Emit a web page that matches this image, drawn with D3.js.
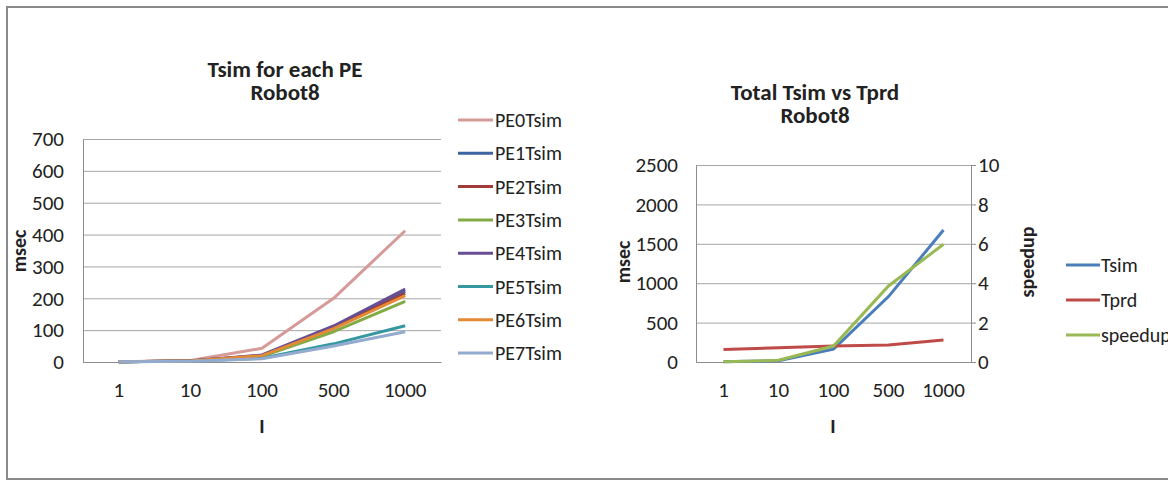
<!DOCTYPE html>
<html>
<head>
<meta charset="utf-8">
<script src="https://cdn.jsdelivr.net/npm/d3@7"></script>
<style>
  html, body { margin: 0; padding: 0; background: #fff; }
  svg { display: block; }
  text { font-family: Carlito, Lato, "Open Sans", sans-serif; fill: #222; }
</style>
</head>
<body>
<svg id="chart" width="1168" height="480"></svg>
<script>
// Iteration counts along the x axis
const categories = ["1", "10", "100", "500", "1000"];

// Per-PE simulation time (msec)
const pe0 = [1, 5, 43, 200, 412];
const pe1 = [0.5, 3, 20, 110, 222];
const pe2 = [0.5, 3, 20, 108, 215];
const pe3 = [0.5, 3, 18, 95, 190];
const pe4 = [0.5, 3, 22, 113, 229];
const pe5 = [0.5, 2, 12, 57, 114];
const pe6 = [0.5, 3, 20, 105, 208];
const pe7 = [0.5, 2, 10, 50, 95];
const peNames = ["PE0Tsim", "PE1Tsim", "PE2Tsim", "PE3Tsim", "PE4Tsim", "PE5Tsim", "PE6Tsim", "PE7Tsim"];
const peColors = ["#d69a98", "#3d64a0", "#a23b38", "#82ab45", "#674e92", "#35979f", "#e38a35", "#94abd0"];

// Totals and speedup
const tsim = [2, 16, 165, 830, 1675];
const tprd = [160, 180, 203, 215, 280];
const speedup = [0.01, 0.09, 0.81, 3.86, 5.98];

const leftTicks = [0, 100, 200, 300, 400, 500, 600, 700];
const rightMsecTicks = [0, 500, 1000, 1500, 2000, 2500];
const speedupTicks = [0, 2, 4, 6, 8, 10];

const svg = d3.select("#chart");
const FONT = "Carlito, Lato, sans-serif";
const TICK_SIZE = 21;
const TITLE_SIZE = 23;
const LEGEND_SIZE = 20;
const AXIS_TITLE_SIZE = 20;

// outer frame
svg.append("rect")
  .attr("x", 7).attr("y", 7).attr("width", 1170).attr("height", 472)
  .attr("fill", "none").attr("stroke", "#8a8a8a").attr("stroke-width", 2);

const gridColor = "#a6a6a6";
const axisColor = "#8c8c8c";
const fmt = d3.format("d");

function styleTicks(a) {
  a.selectAll("text").attr("font-size", TICK_SIZE).attr("fill", "#222").style("font-family", FONT);
}

// two-line bold chart title as one text element
function title(g, cx, y, lines) {
  const t = g.append("text").attr("x", cx).attr("y", y).attr("text-anchor", "middle")
    .attr("font-size", TITLE_SIZE).attr("font-weight", "bold");
  lines.forEach((s, i) => {
    t.append("tspan").attr("x", cx).attr("dy", i === 0 ? 0 : 22.5).text(s);
  });
}

function drawLines(g, x, y, seriesList, colors) {
  const line = d3.line()
    .x((d, i) => x(categories[i]) + x.bandwidth() / 2)
    .y(d => y(d));
  seriesList.forEach((s, k) => {
    g.append("path")
      .datum(s)
      .attr("fill", "none")
      .attr("stroke", colors[k])
      .attr("stroke-width", 3)
      .attr("stroke-linejoin", "round")
      .attr("d", line);
  });
}

// ---------- Left chart: Tsim for each PE ----------
{
  const L = { left: 83, right: 441, top: 139, bottom: 362 };
  const x = d3.scaleBand().domain(categories).range([L.left, L.right]);
  const y = d3.scaleLinear().domain([0, 700]).range([L.bottom, L.top]);
  const g = svg.append("g");

  g.append("g").attr("transform", `translate(${L.left},0)`)
    .call(d3.axisLeft(y).tickValues(leftTicks).tickSize(-(L.right - L.left)).tickFormat(""))
    .call(a => a.select(".domain").remove())
    .call(a => a.selectAll("line").attr("stroke", gridColor).attr("stroke-width", 1));

  g.append("g").attr("transform", `translate(${L.left},0)`)
    .call(d3.axisLeft(y).tickValues(leftTicks).tickSize(0).tickPadding(19).tickFormat(fmt))
    .call(a => a.select(".domain").attr("stroke", axisColor))
    .call(styleTicks);

  g.append("g").attr("transform", `translate(0,${L.bottom})`)
    .call(d3.axisBottom(x).tickSize(0).tickPadding(20))
    .call(a => a.select(".domain").attr("stroke", axisColor))
    .call(styleTicks);

  drawLines(g, x, y, [pe0, pe1, pe2, pe3, pe4, pe5, pe6, pe7], peColors);

  title(g, 285, 77, ["Tsim for each PE", "Robot8"]);

  g.append("text").attr("transform", "translate(26,251) rotate(-90)")
    .attr("text-anchor", "middle").attr("font-size", AXIS_TITLE_SIZE).attr("font-weight", "bold").text("msec");
  g.append("text").attr("x", 262).attr("y", 433).attr("text-anchor", "middle")
    .attr("font-size", AXIS_TITLE_SIZE).attr("font-weight", "bold").text("I");

  const leg = g.append("g");
  peNames.forEach((n, i) => {
    const yy = 120 + i * 33.3;
    leg.append("line").attr("x1", 458).attr("x2", 493).attr("y1", yy).attr("y2", yy)
      .attr("stroke", peColors[i]).attr("stroke-width", 3);
    leg.append("text").attr("x", 495).attr("y", yy + 7).attr("font-size", LEGEND_SIZE).text(n);
  });
}

// ---------- Right chart: Total Tsim vs Tprd ----------
{
  const R = { left: 696, right: 971, top: 165, bottom: 362 };
  const x = d3.scaleBand().domain(categories).range([R.left, R.right]);
  const y = d3.scaleLinear().domain([0, 2500]).range([R.bottom, R.top]);
  const y2 = d3.scaleLinear().domain([0, 10]).range([R.bottom, R.top]);
  const g = svg.append("g");

  g.append("g").attr("transform", `translate(${R.left},0)`)
    .call(d3.axisLeft(y).tickValues(rightMsecTicks).tickSize(-(R.right - R.left)).tickFormat(""))
    .call(a => a.select(".domain").remove())
    .call(a => a.selectAll("line").attr("stroke", gridColor).attr("stroke-width", 1));

  g.append("g").attr("transform", `translate(${R.left},0)`)
    .call(d3.axisLeft(y).tickValues(rightMsecTicks).tickSize(0).tickPadding(18).tickFormat(fmt))
    .call(a => a.select(".domain").attr("stroke", axisColor))
    .call(styleTicks);

  g.append("g").attr("transform", `translate(${R.right},0)`)
    .call(d3.axisRight(y2).tickValues(speedupTicks).tickSize(5).tickPadding(2).tickSizeOuter(0).tickFormat(fmt))
    .call(a => a.select(".domain").attr("stroke", axisColor))
    .call(a => a.selectAll("line").attr("stroke", axisColor))
    .call(styleTicks);

  g.append("g").attr("transform", `translate(0,${R.bottom})`)
    .call(d3.axisBottom(x).tickSize(0).tickPadding(20))
    .call(a => a.select(".domain").attr("stroke", axisColor))
    .call(styleTicks);

  const line1 = d3.line().x((d, i) => x(categories[i]) + x.bandwidth() / 2).y(d => y(d));
  const line2 = d3.line().x((d, i) => x(categories[i]) + x.bandwidth() / 2).y(d => y2(d));
  g.append("path").datum(tsim).attr("fill", "none").attr("stroke", "#4a7ebb").attr("stroke-width", 3).attr("d", line1);
  g.append("path").datum(tprd).attr("fill", "none").attr("stroke", "#be4b48").attr("stroke-width", 3).attr("d", line1);
  g.append("path").datum(speedup).attr("fill", "none").attr("stroke", "#98b954").attr("stroke-width", 3).attr("d", line2);

  title(g, 815, 100, ["Total Tsim vs Tprd", "Robot8"]);

  g.append("text").attr("transform", "translate(630,262) rotate(-90)")
    .attr("text-anchor", "middle").attr("font-size", AXIS_TITLE_SIZE).attr("font-weight", "bold").text("msec");
  g.append("text").attr("transform", "translate(1034,262) rotate(-90)")
    .attr("text-anchor", "middle").attr("font-size", AXIS_TITLE_SIZE).attr("font-weight", "bold").text("speedup");
  g.append("text").attr("x", 833).attr("y", 433).attr("text-anchor", "middle")
    .attr("font-size", AXIS_TITLE_SIZE).attr("font-weight", "bold").text("I");

  const names = ["Tsim", "Tprd", "speedup"];
  const cols = ["#4a7ebb", "#be4b48", "#98b954"];
  names.forEach((n, i) => {
    const yy = 265 + i * 35;
    g.append("line").attr("x1", 1066).attr("x2", 1100).attr("y1", yy).attr("y2", yy)
      .attr("stroke", cols[i]).attr("stroke-width", 3);
    g.append("text").attr("x", 1101).attr("y", yy + 7).attr("font-size", LEGEND_SIZE).text(n);
  });
}
</script>
</body>
</html>
